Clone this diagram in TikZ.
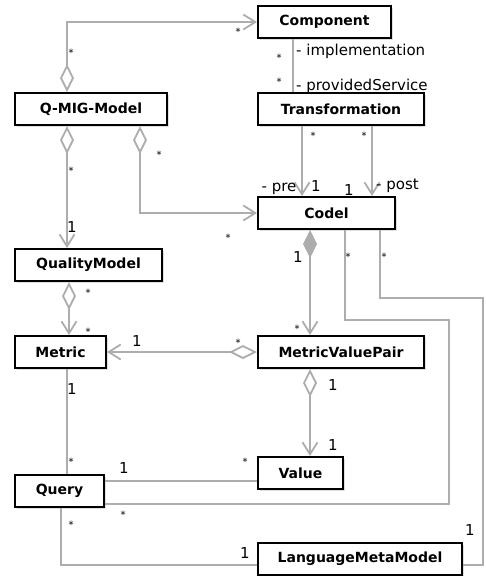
\documentclass[tikz,border=0pt]{standalone}
\usepackage{fontspec}
\setmainfont{DejaVu Sans}
\usetikzlibrary{arrows.meta,shadows}
\definecolor{linkgray}{HTML}{ADADAD}

\begin{document}
\begin{tikzpicture}[
  x=1pt,y=-1pt,
  cls/.style={draw,line width=2pt,fill=white,minimum height=32pt,inner sep=0pt,
    font=\fontsize{14}{16}\selectfont\bfseries,
    drop shadow={shadow xshift=2pt,shadow yshift=-2pt,opacity=0.25}},
  link/.style={draw=linkgray,line width=1.8pt},
  agg/.style={link,{Diamond[open,length=28pt,width=14pt]}-{Straight Barb[length=12pt,width=15pt]}},
  compo/.style={link,{Diamond[length=28pt,width=14pt,fill=linkgray]}-{Straight Barb[length=12pt,width=15pt]}},
  nav/.style={link,-{Straight Barb[length=12pt,width=15pt]}},
  role/.style={font=\fontsize{15}{17}\selectfont,inner sep=0pt},
  mstar/.style={font=\fontsize{10}{11}\selectfont,inner sep=0pt}
]
\useasboundingbox (0,0) rectangle (485,576);

% classes
\node[cls,minimum width=133pt] (component) at (324.5,22) {Component};
\node[cls,minimum width=152pt] (qmig) at (91,109) {Q-MIG-Model};
\node[cls,minimum width=166pt] (trans) at (341,109) {Transformation};
\node[cls,minimum width=137pt] (codel) at (326.5,213) {Codel};
\node[cls,minimum width=147pt] (quality) at (88.5,265) {QualityModel};
\node[cls,minimum width=91pt] (metric) at (60.5,352) {Metric};
\node[cls,minimum width=166pt] (mvp) at (341,352) {MetricValuePair};
\node[cls,minimum width=85pt] (value) at (300.5,473) {Value};
\node[cls,minimum width=89pt] (query) at (59.5,491) {Query};
\node[cls,minimum width=204pt] (lmm) at (360,559) {LanguageMetaModel};

% associations
\draw[agg] (67,0 |- qmig.north) |- (component.west);
\draw[link] (293,0 |- component.south) -- (293,0 |- trans.north);
\draw[agg] (67,0 |- qmig.south) -- (67,0 |- quality.north);
\draw[agg] (140,0 |- qmig.south) |- (codel.west);
\draw[nav] (302,0 |- trans.south) -- (302,0 |- codel.north);
\draw[nav] (372,0 |- trans.south) -- (372,0 |- codel.north);
\draw[compo] (310,0 |- codel.south) -- (310,0 |- mvp.north);
\draw[agg] (69,0 |- quality.south) -- (69,0 |- metric.north);
\draw[agg] (mvp.west) -- (metric.east);
\draw[agg] (310,0 |- mvp.south) -- (310,0 |- value.north);
\draw[link] (67,0 |- metric.south) -- (67,0 |- query.north);
\draw[link] (query.east |- 0,481) -- (value.west |- 0,481);
\draw[link] (345,0 |- codel.south) |- (449,320) -- (449,504) -- (query.east |- 0,504);
\draw[link] (380,0 |- codel.south) |- (483,298) -- (483,565) -- (lmm.east |- 0,565);
\draw[link] (61,0 |- query.south) |- (lmm.west |- 0,565);

% role names
\node[role,anchor=west] (rimpl) at (296,51) {- implementation};
\node[role,anchor=west] (rserv) at (296,86) {- providedService};
\node[role] (rpre) at (279,189) {- pre};
\node[role,anchor=west] (rpost) at (376,186) {- post};

% multiplicities
\foreach \px/\py [count=\i] in {316/186, 349/190, 72/227, 298/257, 137/341,
    333/385, 333/445, 72/389, 124/468, 470/530, 245/553}
  \node[role] (one\i) at (\px,\py) {1};
\foreach \px/\py [count=\i] in {71/53, 238/32, 279/58, 279/82, 71/171, 159/155,
    228/238, 313/136, 364/136, 297/329, 88/293, 88/332, 238/343, 71/462,
    245/462, 348/257, 123/515, 384/257, 71/525}
  \node[mstar] (many\i) at (\px,\py) {*};
\end{tikzpicture}
\end{document}
